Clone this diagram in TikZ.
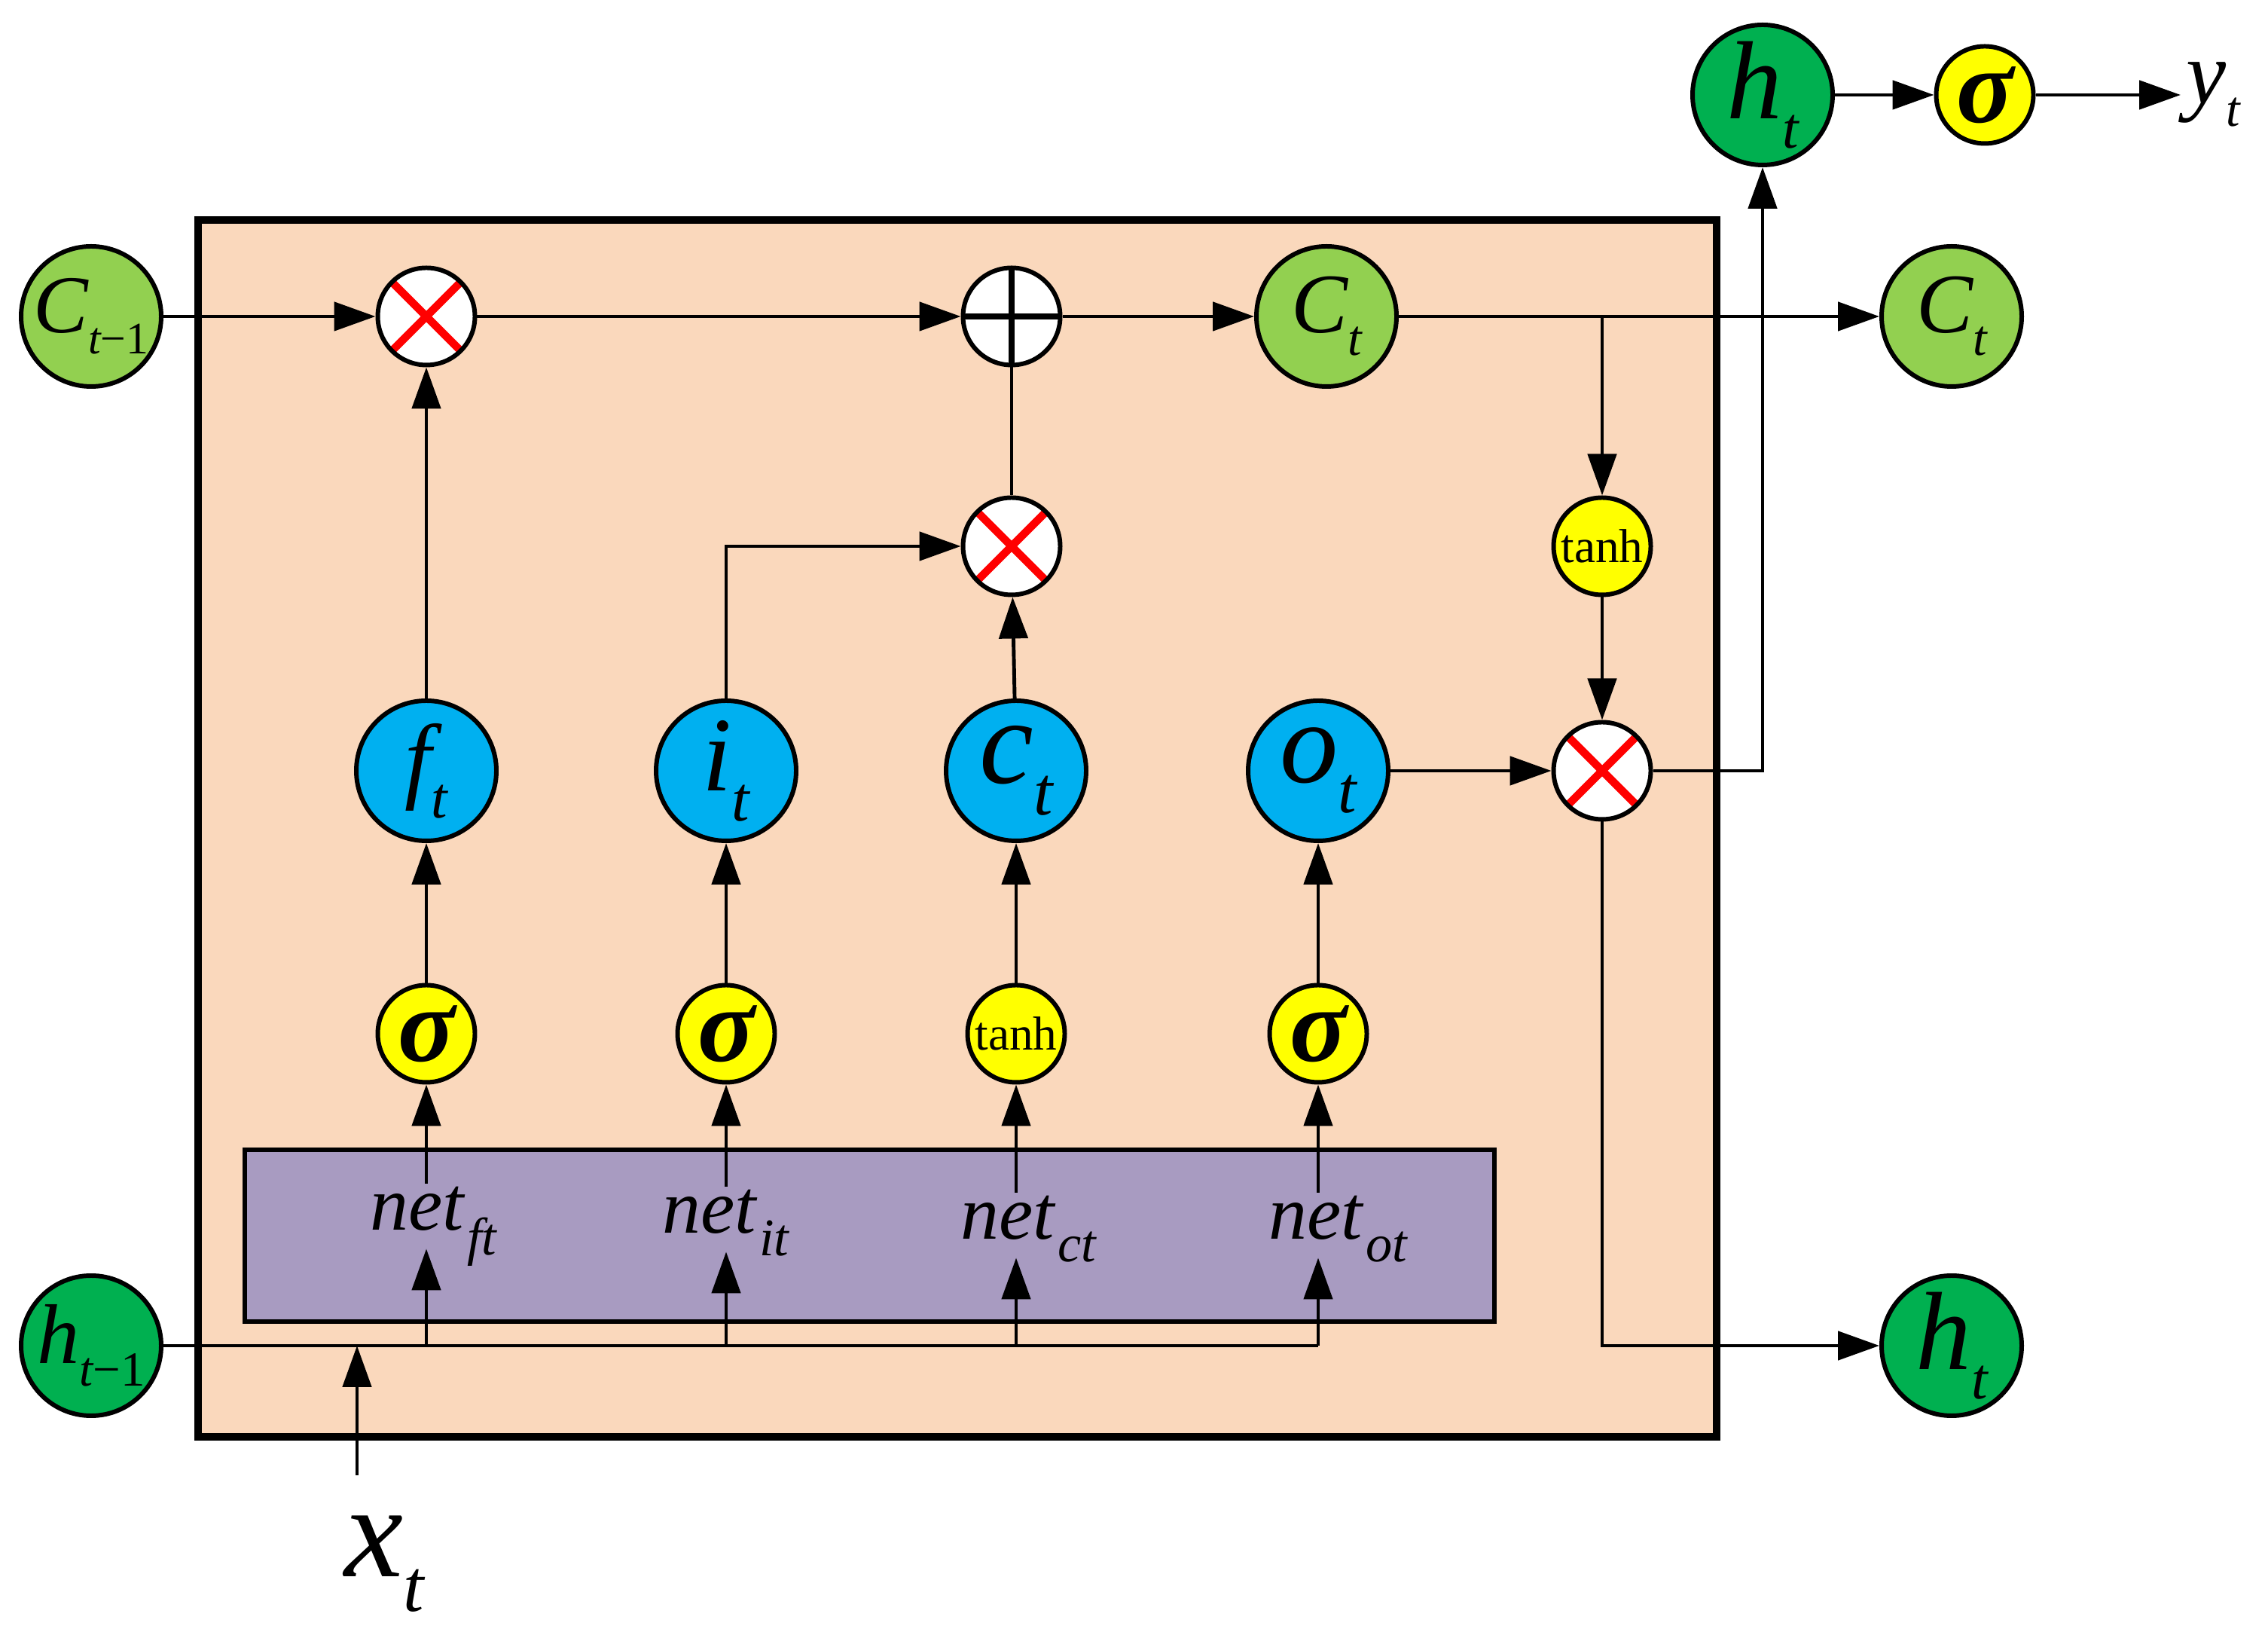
\documentclass[tikz,border=0pt]{standalone}
\usepackage{fontspec}
\setmainfont{Liberation Serif}
\usetikzlibrary{arrows.meta}

\definecolor{cellbg}{RGB}{250,216,188}
\definecolor{netbg}{RGB}{168,155,193}
\definecolor{cgreen}{RGB}{146,208,80}
\definecolor{hgreen}{RGB}{0,176,80}
\definecolor{gateblue}{RGB}{0,176,240}
\definecolor{actyellow}{RGB}{255,255,0}

% main letter, its size, subscript, its size, drop of the subscript
\newcommand{\lbl}[5]{{\fontsize{#1}{#1}\selectfont\itshape #2}%
  \raisebox{-#5}{\fontsize{#3}{#3}\selectfont\itshape #4}}
\newcommand{\sig}{{\fontsize{40pt}{40pt}\selectfont\bfseries\itshape σ}}
\newcommand{\tanhtxt}{{\fontsize{18pt}{18pt}\selectfont tanh}}
\newcommand{\netsub}[2]{net\rlap{\hspace{0.04cm}\raisebox{-#2}{\fontsize{20pt}{20pt}\selectfont\itshape #1}}}

\tikzset{
  state/.style={circle, draw, line width=1.7pt, minimum size=1.86cm, inner sep=0pt},
  cstate/.style={state, fill=cgreen},
  hstate/.style={state, fill=hgreen},
  gate/.style={state, fill=gateblue},
  act/.style={circle, draw, line width=1.7pt, minimum size=1.29cm, inner sep=0pt, fill=actyellow},
  mult/.style={circle, draw, line width=1.7pt, minimum size=1.29cm, inner sep=0pt, fill=white,
    path picture={\draw[red, line width=3pt]
      (path picture bounding box.north west) -- (path picture bounding box.south east)
      (path picture bounding box.north east) -- (path picture bounding box.south west);}},
  addop/.style={circle, draw, line width=1.7pt, minimum size=1.29cm, inner sep=0pt, fill=white,
    path picture={\draw[line width=2.5pt]
      (path picture bounding box.north) -- (path picture bounding box.south)
      (path picture bounding box.west) -- (path picture bounding box.east);}},
  netlbl/.style={inner sep=0pt, anchor=base, text height=0.6cm, text depth=0.22cm,
    font=\fontsize{29pt}{29pt}\selectfont\itshape},
}

\begin{document}
\begin{tikzpicture}[line width=1.4pt, >={Triangle[length=0.55cm,width=0.38cm]}]
  \useasboundingbox (0,0) rectangle (30.11,21.65);
  % cell and the net block
  \draw[fill=cellbg, line width=2.7pt] (2.63,2.58) rectangle (22.79,18.73);
  \draw[fill=netbg, line width=1.7pt] (3.25,4.11) rectangle (19.84,6.39);

  % states outside the cell
  \node (cprev) [cstate] at (1.21,17.45) {\lbl{31pt}{C}{17pt}{t\upshape−1}{0.28cm}};
  \node (hprev) [hstate] at (1.21,3.79) {\lbl{32pt}{h}{18.5pt}{t\upshape−1}{0.30cm}};
  \node (cout) [cstate] at (25.91,17.45) {\lbl{32pt}{C}{19pt}{t}{0.30cm}};
  \node (hout) [hstate] at (25.91,3.79) {\lbl{42pt}{h}{22pt}{t}{0.39cm}};
  \node (htop) [hstate] at (23.40,20.39) {\lbl{42pt}{h}{22pt}{t}{0.39cm}};
  \node (stop) [act] at (26.35,20.39) {\sig};
  \node (yt) [anchor=west, inner sep=0.05cm] at (28.95,20.40) {\lbl{34pt}{y}{19pt}{t}{0.30cm}};
  \node (xt) [anchor=base west, inner sep=0pt] at (4.55,0.73) {\lbl{50pt}{x}{28pt}{t}{0.46cm}};
  \coordinate (xin) at (4.74,2.07);

  % inside the cell
  \node (mf) [mult] at (5.66,17.45) {};
  \node (add) [addop] at (13.43,17.45) {};
  \node (cin) [cstate] at (17.61,17.45) {\lbl{32pt}{C}{19pt}{t}{0.30cm}};
  \node (mi) [mult] at (13.43,14.40) {};
  \node (tc) [act] at (21.27,14.40) {\tanhtxt};
  \node (mo) [mult] at (21.27,11.42) {};

  \node (gf) [gate] at (5.66,11.42) {\lbl{36pt}{f}{22pt}{t}{0.36cm}};
  \node (gi) [gate] at (9.64,11.42) {\lbl{40pt}{i}{24pt}{t}{0.40cm}};
  \node (gc) [gate] at (13.49,11.42) {\lbl{46pt}{c}{26pt}{t}{0.42cm}};
  \node (go) [gate] at (17.50,11.42) {\lbl{44pt}{o}{25pt}{t}{0.40cm}};

  \node (sf) [act] at (5.66,7.93) {\sig};
  \node (si) [act] at (9.64,7.93) {\sig};
  \node (sc) [act] at (13.49,7.93) {\tanhtxt};
  \node (so) [act] at (17.50,7.93) {\sig};

  \node (netf) [netlbl] at (5.54,5.32) {\netsub{ft}{0.33cm}};
  \node (neti) [netlbl] at (9.42,5.28) {\netsub{it}{0.30cm}};
  \node (netc) [netlbl] at (13.38,5.20) {\netsub{ct}{0.30cm}};
  \node (neto) [netlbl] at (17.47,5.20) {\netsub{ot}{0.30cm}};

  % inputs
  \draw (hprev) -- (so |- hprev);
  \draw[->] (xin) -- (xin |- hprev);
  \foreach \g in {f,i,c,o} {
    \draw[->] (s\g |- hprev) -- (s\g |- net\g.south);
    \draw[->] (s\g |- net\g.north) -- (s\g);
    \draw[->] (s\g) -- (g\g);
  }

  % cell state
  \draw[->] (cprev) -- (mf);
  \draw[->] (gf) -- (mf);
  \draw[->] (mf) -- (add);
  \draw[->] (gi) |- (mi);
  \draw[->] (gc) -- (mi);
  \draw (mi) -- (add);
  \draw[->] (add) -- (cin);
  \draw[->] (cin) -- (cout);

  % output
  \draw[->] (tc |- cin) -- (tc);
  \draw[->] (tc) -- (mo);
  \draw[->] (go) -- (mo);
  \draw[->] (mo) -| (htop);
  \draw[->] (mo) |- (hout);
  \draw[->] (htop) -- (stop);
  \draw[->] (stop) -- (stop -| yt.west);
\end{tikzpicture}
\end{document}
